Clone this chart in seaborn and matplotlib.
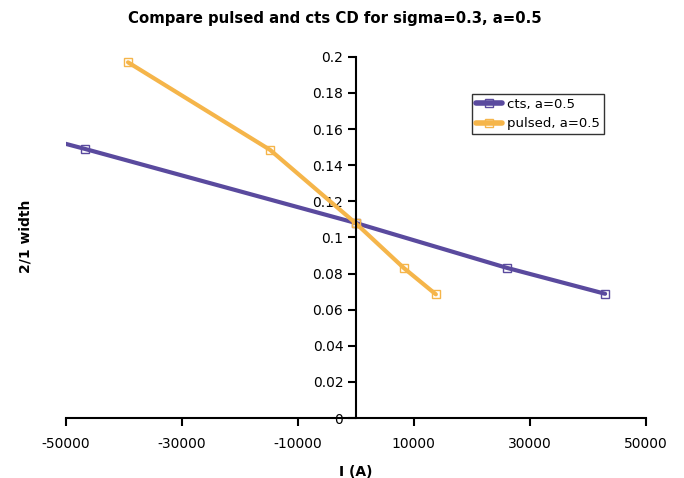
import numpy as np
import pandas as pd
import seaborn as sns
import matplotlib.pyplot as plt

# === Data ===
cts_current = [-52000, -46700, 0, 26000, 43000]
cts_width = [0.1535, 0.149, 0.108, 0.0832, 0.0688]
pulsed_current = [-39300, -14800, 0, 8300, 13800]
pulsed_width = [0.197, 0.1485, 0.1078, 0.083, 0.0685]
series_names = ["cts, a=0.5", "pulsed, a=0.5"]
colors = ["#5a4a9e", "#f5b54a"]

x_ticks = [-50000, -30000, -10000, 10000, 30000, 50000]
y_ticks = [0, 0.02, 0.04, 0.06, 0.08, 0.1, 0.12, 0.14, 0.16, 0.18, 0.2]

df = pd.concat([
    pd.DataFrame({"I": cts_current, "width": cts_width, "series": series_names[0]}),
    pd.DataFrame({"I": pulsed_current, "width": pulsed_width, "series": series_names[1]}),
])

sns.set_style("white")
plt.rcParams["font.family"] = ["DejaVu Sans"]
plt.rcParams["text.color"] = "black"
plt.rcParams["xtick.color"] = "black"
plt.rcParams["ytick.color"] = "black"
plt.rcParams["axes.labelcolor"] = "black"

fig = plt.figure(figsize=(6.84, 4.78), dpi=100)
ax = fig.add_axes([0.0965, 0.1255, 0.8475, 0.7555])

sns.lineplot(data=df, x="I", y="width", hue="series", palette=colors, sort=False,
             marker="s", markersize=6, markerfacecolor="none", markeredgewidth=1.0,
             linewidth=3.0, ax=ax, legend=True)

for line in ax.get_lines():
    line.set_markeredgecolor(line.get_color())

ax.set_xlim(-50000, 50000)
ax.set_ylim(0, 0.2)
ax.set_xticks(x_ticks)
ax.set_xticklabels([str(t) for t in x_ticks], fontsize=10)
ax.set_yticks(y_ticks)
ax.set_yticklabels([f"{t:g}" for t in y_ticks], fontsize=10)

# Excel-style crossing axes
ax.spines["left"].set_position(("data", 0))
ax.spines["bottom"].set_position(("data", 0))
ax.spines["top"].set_visible(False)
ax.spines["right"].set_visible(False)
for s in ["left", "bottom"]:
    ax.spines[s].set_color("black")
    ax.spines[s].set_linewidth(1.5)
ax.tick_params(axis="x", direction="out", length=6, width=1.5, pad=8)
ax.tick_params(axis="y", direction="out", length=6, width=1.5, pad=3)
ax.xaxis.set_ticks_position("bottom")
ax.yaxis.set_ticks_position("left")

ax.set_xlabel("I (A)", fontsize=10, fontweight="bold", labelpad=10)
ax.set_ylabel("")
fig.text(0.037, 0.505, "2/1 width", rotation=90, ha="center", va="center",
         fontsize=10, fontweight="bold")
fig.text(0.49, 0.962, "Compare pulsed and cts CD for sigma=0.3, a=0.5",
         ha="center", va="center", fontsize=10.7, fontweight="bold")

leg = ax.legend(loc="upper left", bbox_to_anchor=(0.700, 0.898), fontsize=9.5,
                frameon=True, fancybox=False, borderpad=0.3, handlelength=2.0,
                handletextpad=0.35, labelspacing=0.5, borderaxespad=0)
leg.get_frame().set_edgecolor("black")
leg.get_frame().set_linewidth(1.0)
for h in leg.get_lines():
    h.set_linewidth(4)

fig.savefig("out.png", dpi=100)
